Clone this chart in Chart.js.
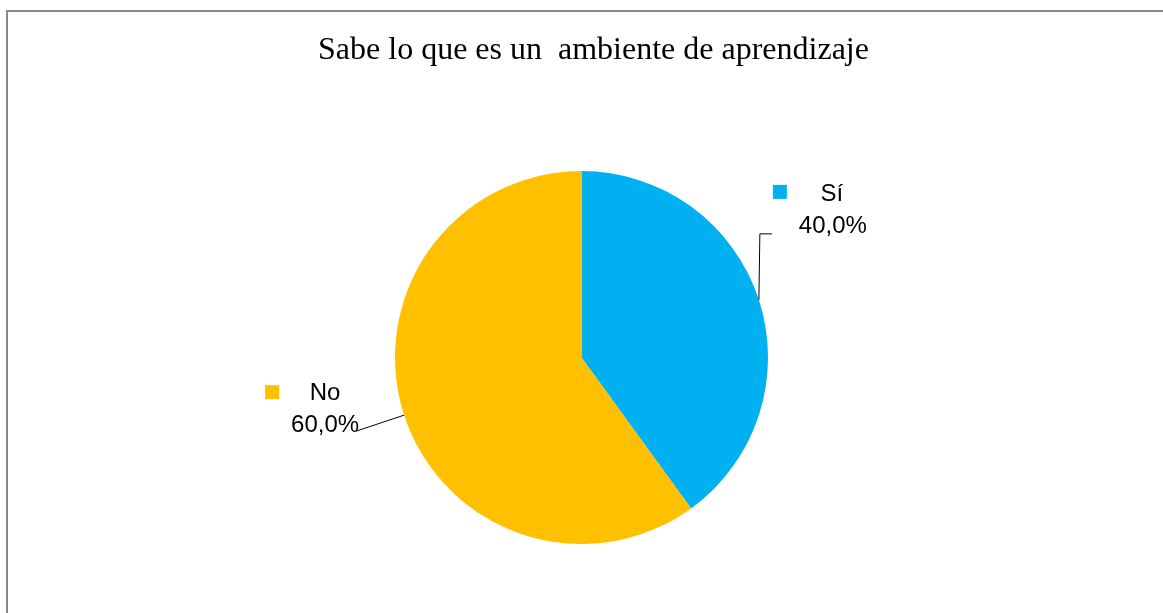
<!DOCTYPE html>
<html>
<head>
<meta charset="utf-8">
<script src="https://cdn.jsdelivr.net/npm/chart.js"></script>
<style>
  html, body { margin: 0; padding: 0; background: #fff; overflow: hidden; }
  #wrap { position: relative; width: 1163px; height: 613px; }
  #frame { position: absolute; left: 6px; top: 10px; right: -10px; bottom: -10px;
           border-top: 2px solid #888; border-left: 2px solid #888; pointer-events: none; }
  canvas { position: absolute; left: 0; top: 0; }
</style>
</head>
<body>
<div id="wrap">
  <canvas id="chart" width="1163" height="613"></canvas>
  <div id="frame"></div>
</div>
<script>
// data
const titleText = "Sabe lo que es un  ambiente de aprendizaje";
const categories = ["Sí", "No"];
const values = [40, 60];
const colors = ["#00B0F0", "#FFC000"];

// label placement relative to each slice's outer mid point
const labelOffsets = [
  { key: [14, -115], name: [73, -105], value: [74, -73], leader: [[1, -66], [13, -66]] },
  { key: [-139, -30], name: [-79, -22], value: [-79, 10], leader: [[-48, 16]] }
];

const total = values.reduce((a, b) => a + b, 0);
const fmt = v => (v / total * 100).toFixed(1).replace(".", ",") + "%";

const pieLabels = {
  id: "pieLabels",
  afterDraw(chart) {
    const ctx = chart.ctx;
    const area = chart.chartArea;
    // title
    ctx.save();
    ctx.fillStyle = "#000";
    ctx.font = "32px 'Liberation Serif', 'Times New Roman', serif";
    ctx.textAlign = "center";
    ctx.textBaseline = "middle";
    ctx.fillText(titleText, (area.left + area.right) / 2 + 12, 51);
    ctx.restore();

    const meta = chart.getDatasetMeta(0);
    meta.data.forEach((arc, i) => {
      const p = arc.getProps(["x", "y", "startAngle", "endAngle", "outerRadius"], true);
      const mid = (p.startAngle + p.endAngle) / 2;
      const ax = p.x + Math.cos(mid) * p.outerRadius;
      const ay = p.y + Math.sin(mid) * p.outerRadius;
      const o = labelOffsets[i];
      ctx.save();
      // leader line
      ctx.strokeStyle = "#000";
      ctx.lineWidth = 1;
      ctx.beginPath();
      ctx.moveTo(ax, ay);
      o.leader.forEach(pt => ctx.lineTo(ax + pt[0], ay + pt[1]));
      ctx.stroke();
      // legend key
      ctx.fillStyle = colors[i];
      ctx.fillRect(ax + o.key[0], ay + o.key[1], 14, 14);
      // texts
      ctx.fillStyle = "#000";
      ctx.font = "24px 'Liberation Sans', Arial, sans-serif";
      ctx.textAlign = "center";
      ctx.textBaseline = "middle";
      ctx.fillText(categories[i], ax + o.name[0], ay + o.name[1]);
      ctx.fillText(fmt(values[i]), ax + o.value[0], ay + o.value[1]);
      ctx.restore();
    });
  }
};

new Chart(document.getElementById("chart"), {
  type: "pie",
  data: {
    labels: categories,
    datasets: [{
      data: values,
      backgroundColor: colors,
      borderWidth: 0
    }]
  },
  options: {
    responsive: false,
    animation: false,
    layout: { padding: { top: 171, bottom: 69, left: 0, right: 0 } },
    plugins: {
      legend: { display: false },
      title: { display: false },
      tooltip: { enabled: false }
    }
  },
  plugins: [pieLabels]
});
</script>
</body>
</html>
